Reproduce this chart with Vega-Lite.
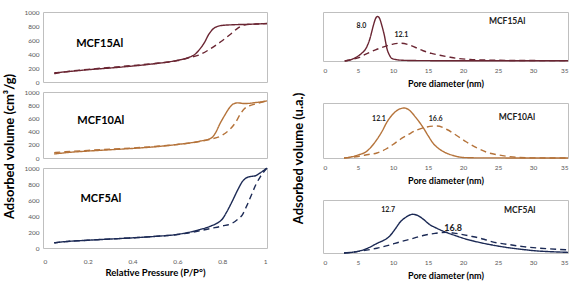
{
  "$schema": "https://vega.github.io/schema/vega-lite/v6.json",
  "padding": {"left": 3, "top": 8, "right": 0, "bottom": 0},
  "background": "white",
  "datasets": {
    "iso": [
      {"panel": "MCF15Al", "branch": "solid", "p": 0.05, "v": 130},
      {"panel": "MCF15Al", "branch": "solid", "p": 0.1, "v": 145},
      {"panel": "MCF15Al", "branch": "solid", "p": 0.2, "v": 175},
      {"panel": "MCF15Al", "branch": "solid", "p": 0.3, "v": 200},
      {"panel": "MCF15Al", "branch": "solid", "p": 0.4, "v": 228},
      {"panel": "MCF15Al", "branch": "solid", "p": 0.5, "v": 262},
      {"panel": "MCF15Al", "branch": "solid", "p": 0.6, "v": 310},
      {"panel": "MCF15Al", "branch": "solid", "p": 0.65, "v": 350},
      {"panel": "MCF15Al", "branch": "solid", "p": 0.68, "v": 400},
      {"panel": "MCF15Al", "branch": "solid", "p": 0.7, "v": 470},
      {"panel": "MCF15Al", "branch": "solid", "p": 0.72, "v": 560},
      {"panel": "MCF15Al", "branch": "solid", "p": 0.74, "v": 680},
      {"panel": "MCF15Al", "branch": "solid", "p": 0.76, "v": 760},
      {"panel": "MCF15Al", "branch": "solid", "p": 0.78, "v": 795},
      {"panel": "MCF15Al", "branch": "solid", "p": 0.8, "v": 808},
      {"panel": "MCF15Al", "branch": "solid", "p": 0.85, "v": 818},
      {"panel": "MCF15Al", "branch": "solid", "p": 0.9, "v": 823},
      {"panel": "MCF15Al", "branch": "solid", "p": 0.95, "v": 828},
      {"panel": "MCF15Al", "branch": "solid", "p": 1.0, "v": 835},
      {"panel": "MCF15Al", "branch": "dashed", "p": 0.05, "v": 120},
      {"panel": "MCF15Al", "branch": "dashed", "p": 0.1, "v": 145},
      {"panel": "MCF15Al", "branch": "dashed", "p": 0.2, "v": 180},
      {"panel": "MCF15Al", "branch": "dashed", "p": 0.3, "v": 208},
      {"panel": "MCF15Al", "branch": "dashed", "p": 0.4, "v": 235},
      {"panel": "MCF15Al", "branch": "dashed", "p": 0.5, "v": 265},
      {"panel": "MCF15Al", "branch": "dashed", "p": 0.6, "v": 305},
      {"panel": "MCF15Al", "branch": "dashed", "p": 0.65, "v": 345},
      {"panel": "MCF15Al", "branch": "dashed", "p": 0.7, "v": 390},
      {"panel": "MCF15Al", "branch": "dashed", "p": 0.75, "v": 480},
      {"panel": "MCF15Al", "branch": "dashed", "p": 0.8, "v": 590},
      {"panel": "MCF15Al", "branch": "dashed", "p": 0.84, "v": 690},
      {"panel": "MCF15Al", "branch": "dashed", "p": 0.87, "v": 770},
      {"panel": "MCF15Al", "branch": "dashed", "p": 0.9, "v": 815},
      {"panel": "MCF15Al", "branch": "dashed", "p": 0.95, "v": 828},
      {"panel": "MCF15Al", "branch": "dashed", "p": 1.0, "v": 835},
      {"panel": "MCF10Al", "branch": "solid", "p": 0.05, "v": 60},
      {"panel": "MCF10Al", "branch": "solid", "p": 0.1, "v": 80},
      {"panel": "MCF10Al", "branch": "solid", "p": 0.2, "v": 105},
      {"panel": "MCF10Al", "branch": "solid", "p": 0.3, "v": 125},
      {"panel": "MCF10Al", "branch": "solid", "p": 0.4, "v": 145},
      {"panel": "MCF10Al", "branch": "solid", "p": 0.5, "v": 170},
      {"panel": "MCF10Al", "branch": "solid", "p": 0.6, "v": 205},
      {"panel": "MCF10Al", "branch": "solid", "p": 0.7, "v": 255},
      {"panel": "MCF10Al", "branch": "solid", "p": 0.75, "v": 300},
      {"panel": "MCF10Al", "branch": "solid", "p": 0.77, "v": 380},
      {"panel": "MCF10Al", "branch": "solid", "p": 0.79, "v": 520},
      {"panel": "MCF10Al", "branch": "solid", "p": 0.81, "v": 640},
      {"panel": "MCF10Al", "branch": "solid", "p": 0.83, "v": 750},
      {"panel": "MCF10Al", "branch": "solid", "p": 0.85, "v": 820},
      {"panel": "MCF10Al", "branch": "solid", "p": 0.87, "v": 835},
      {"panel": "MCF10Al", "branch": "solid", "p": 0.9, "v": 825},
      {"panel": "MCF10Al", "branch": "solid", "p": 0.95, "v": 840},
      {"panel": "MCF10Al", "branch": "solid", "p": 1.0, "v": 865},
      {"panel": "MCF10Al", "branch": "dashed", "p": 0.05, "v": 80},
      {"panel": "MCF10Al", "branch": "dashed", "p": 0.1, "v": 95},
      {"panel": "MCF10Al", "branch": "dashed", "p": 0.2, "v": 115},
      {"panel": "MCF10Al", "branch": "dashed", "p": 0.3, "v": 135},
      {"panel": "MCF10Al", "branch": "dashed", "p": 0.4, "v": 152},
      {"panel": "MCF10Al", "branch": "dashed", "p": 0.5, "v": 175},
      {"panel": "MCF10Al", "branch": "dashed", "p": 0.6, "v": 205},
      {"panel": "MCF10Al", "branch": "dashed", "p": 0.7, "v": 250},
      {"panel": "MCF10Al", "branch": "dashed", "p": 0.75, "v": 285},
      {"panel": "MCF10Al", "branch": "dashed", "p": 0.8, "v": 345},
      {"panel": "MCF10Al", "branch": "dashed", "p": 0.83, "v": 420},
      {"panel": "MCF10Al", "branch": "dashed", "p": 0.86, "v": 540},
      {"panel": "MCF10Al", "branch": "dashed", "p": 0.88, "v": 660},
      {"panel": "MCF10Al", "branch": "dashed", "p": 0.9, "v": 750},
      {"panel": "MCF10Al", "branch": "dashed", "p": 0.93, "v": 800},
      {"panel": "MCF10Al", "branch": "dashed", "p": 0.96, "v": 830},
      {"panel": "MCF10Al", "branch": "dashed", "p": 1.0, "v": 865},
      {"panel": "MCF5Al", "branch": "solid", "p": 0.05, "v": 65},
      {"panel": "MCF5Al", "branch": "solid", "p": 0.1, "v": 80},
      {"panel": "MCF5Al", "branch": "solid", "p": 0.2, "v": 97},
      {"panel": "MCF5Al", "branch": "solid", "p": 0.3, "v": 112},
      {"panel": "MCF5Al", "branch": "solid", "p": 0.4, "v": 127},
      {"panel": "MCF5Al", "branch": "solid", "p": 0.5, "v": 145},
      {"panel": "MCF5Al", "branch": "solid", "p": 0.6, "v": 170},
      {"panel": "MCF5Al", "branch": "solid", "p": 0.7, "v": 230},
      {"panel": "MCF5Al", "branch": "solid", "p": 0.75, "v": 275},
      {"panel": "MCF5Al", "branch": "solid", "p": 0.78, "v": 315},
      {"panel": "MCF5Al", "branch": "solid", "p": 0.8, "v": 360},
      {"panel": "MCF5Al", "branch": "solid", "p": 0.82, "v": 450},
      {"panel": "MCF5Al", "branch": "solid", "p": 0.845, "v": 585},
      {"panel": "MCF5Al", "branch": "solid", "p": 0.87, "v": 730},
      {"panel": "MCF5Al", "branch": "solid", "p": 0.89, "v": 830},
      {"panel": "MCF5Al", "branch": "solid", "p": 0.91, "v": 880},
      {"panel": "MCF5Al", "branch": "solid", "p": 0.93, "v": 895},
      {"panel": "MCF5Al", "branch": "solid", "p": 0.95, "v": 905},
      {"panel": "MCF5Al", "branch": "solid", "p": 0.97, "v": 940},
      {"panel": "MCF5Al", "branch": "solid", "p": 1.0, "v": 1000},
      {"panel": "MCF5Al", "branch": "dashed", "p": 0.05, "v": 65},
      {"panel": "MCF5Al", "branch": "dashed", "p": 0.1, "v": 80},
      {"panel": "MCF5Al", "branch": "dashed", "p": 0.2, "v": 97},
      {"panel": "MCF5Al", "branch": "dashed", "p": 0.3, "v": 112},
      {"panel": "MCF5Al", "branch": "dashed", "p": 0.4, "v": 127},
      {"panel": "MCF5Al", "branch": "dashed", "p": 0.5, "v": 145},
      {"panel": "MCF5Al", "branch": "dashed", "p": 0.6, "v": 168},
      {"panel": "MCF5Al", "branch": "dashed", "p": 0.7, "v": 215},
      {"panel": "MCF5Al", "branch": "dashed", "p": 0.75, "v": 245},
      {"panel": "MCF5Al", "branch": "dashed", "p": 0.8, "v": 275},
      {"panel": "MCF5Al", "branch": "dashed", "p": 0.845, "v": 310},
      {"panel": "MCF5Al", "branch": "dashed", "p": 0.87, "v": 360},
      {"panel": "MCF5Al", "branch": "dashed", "p": 0.89, "v": 415},
      {"panel": "MCF5Al", "branch": "dashed", "p": 0.91, "v": 530},
      {"panel": "MCF5Al", "branch": "dashed", "p": 0.93, "v": 660},
      {"panel": "MCF5Al", "branch": "dashed", "p": 0.95, "v": 790},
      {"panel": "MCF5Al", "branch": "dashed", "p": 0.97, "v": 890},
      {"panel": "MCF5Al", "branch": "dashed", "p": 1.0, "v": 1000}
    ],
    "psd": [
      {"panel": "MCF15Al", "branch": "solid", "d": 3.1, "v": 0},
      {"panel": "MCF15Al", "branch": "solid", "d": 4, "v": 0.03},
      {"panel": "MCF15Al", "branch": "solid", "d": 4.8, "v": 0.09},
      {"panel": "MCF15Al", "branch": "solid", "d": 5.5, "v": 0.17},
      {"panel": "MCF15Al", "branch": "solid", "d": 6.2, "v": 0.3},
      {"panel": "MCF15Al", "branch": "solid", "d": 6.7, "v": 0.5},
      {"panel": "MCF15Al", "branch": "solid", "d": 7.2, "v": 0.8},
      {"panel": "MCF15Al", "branch": "solid", "d": 7.5, "v": 0.95},
      {"panel": "MCF15Al", "branch": "solid", "d": 7.8, "v": 1.0},
      {"panel": "MCF15Al", "branch": "solid", "d": 8.1, "v": 0.95},
      {"panel": "MCF15Al", "branch": "solid", "d": 8.4, "v": 0.8},
      {"panel": "MCF15Al", "branch": "solid", "d": 8.8, "v": 0.55},
      {"panel": "MCF15Al", "branch": "solid", "d": 9.1, "v": 0.3},
      {"panel": "MCF15Al", "branch": "solid", "d": 9.5, "v": 0.13},
      {"panel": "MCF15Al", "branch": "solid", "d": 9.8, "v": 0.06},
      {"panel": "MCF15Al", "branch": "solid", "d": 10.5, "v": 0.03},
      {"panel": "MCF15Al", "branch": "solid", "d": 11, "v": 0.02},
      {"panel": "MCF15Al", "branch": "solid", "d": 13, "v": 0.01},
      {"panel": "MCF15Al", "branch": "solid", "d": 20, "v": 0.005},
      {"panel": "MCF15Al", "branch": "solid", "d": 35, "v": 0.005},
      {"panel": "MCF15Al", "branch": "dashed", "d": 3.1, "v": 0},
      {"panel": "MCF15Al", "branch": "dashed", "d": 4, "v": 0.03},
      {"panel": "MCF15Al", "branch": "dashed", "d": 5, "v": 0.07},
      {"panel": "MCF15Al", "branch": "dashed", "d": 6.2, "v": 0.16},
      {"panel": "MCF15Al", "branch": "dashed", "d": 7.5, "v": 0.25},
      {"panel": "MCF15Al", "branch": "dashed", "d": 9.1, "v": 0.34},
      {"panel": "MCF15Al", "branch": "dashed", "d": 10, "v": 0.38},
      {"panel": "MCF15Al", "branch": "dashed", "d": 11.2, "v": 0.4},
      {"panel": "MCF15Al", "branch": "dashed", "d": 12.5, "v": 0.35},
      {"panel": "MCF15Al", "branch": "dashed", "d": 14.3, "v": 0.23},
      {"panel": "MCF15Al", "branch": "dashed", "d": 15.5, "v": 0.17},
      {"panel": "MCF15Al", "branch": "dashed", "d": 16.7, "v": 0.13},
      {"panel": "MCF15Al", "branch": "dashed", "d": 18, "v": 0.09},
      {"panel": "MCF15Al", "branch": "dashed", "d": 19.1, "v": 0.06},
      {"panel": "MCF15Al", "branch": "dashed", "d": 21, "v": 0.035},
      {"panel": "MCF15Al", "branch": "dashed", "d": 23.9, "v": 0.02},
      {"panel": "MCF15Al", "branch": "dashed", "d": 27, "v": 0.012},
      {"panel": "MCF15Al", "branch": "dashed", "d": 30, "v": 0.01},
      {"panel": "MCF15Al", "branch": "dashed", "d": 35, "v": 0.008},
      {"panel": "MCF10Al", "branch": "solid", "d": 3, "v": 0},
      {"panel": "MCF10Al", "branch": "solid", "d": 4, "v": 0.02},
      {"panel": "MCF10Al", "branch": "solid", "d": 5, "v": 0.06},
      {"panel": "MCF10Al", "branch": "solid", "d": 6.2, "v": 0.13},
      {"panel": "MCF10Al", "branch": "solid", "d": 7.7, "v": 0.37},
      {"panel": "MCF10Al", "branch": "solid", "d": 8.5, "v": 0.55},
      {"panel": "MCF10Al", "branch": "solid", "d": 9.1, "v": 0.71},
      {"panel": "MCF10Al", "branch": "solid", "d": 10, "v": 0.88},
      {"panel": "MCF10Al", "branch": "solid", "d": 10.8, "v": 0.97},
      {"panel": "MCF10Al", "branch": "solid", "d": 11.6, "v": 1.0},
      {"panel": "MCF10Al", "branch": "solid", "d": 12.3, "v": 0.96},
      {"panel": "MCF10Al", "branch": "solid", "d": 13.2, "v": 0.82},
      {"panel": "MCF10Al", "branch": "solid", "d": 14.3, "v": 0.61},
      {"panel": "MCF10Al", "branch": "solid", "d": 15, "v": 0.45},
      {"panel": "MCF10Al", "branch": "solid", "d": 15.7, "v": 0.3},
      {"panel": "MCF10Al", "branch": "solid", "d": 16.6, "v": 0.18},
      {"panel": "MCF10Al", "branch": "solid", "d": 17.6, "v": 0.1},
      {"panel": "MCF10Al", "branch": "solid", "d": 18.6, "v": 0.05},
      {"panel": "MCF10Al", "branch": "solid", "d": 20, "v": 0.01},
      {"panel": "MCF10Al", "branch": "solid", "d": 22, "v": 0.003},
      {"panel": "MCF10Al", "branch": "solid", "d": 35, "v": 0},
      {"panel": "MCF10Al", "branch": "dashed", "d": 3, "v": 0},
      {"panel": "MCF10Al", "branch": "dashed", "d": 5, "v": 0.03},
      {"panel": "MCF10Al", "branch": "dashed", "d": 6.5, "v": 0.07},
      {"panel": "MCF10Al", "branch": "dashed", "d": 7.7, "v": 0.1},
      {"panel": "MCF10Al", "branch": "dashed", "d": 9, "v": 0.18},
      {"panel": "MCF10Al", "branch": "dashed", "d": 10, "v": 0.27},
      {"panel": "MCF10Al", "branch": "dashed", "d": 11, "v": 0.37},
      {"panel": "MCF10Al", "branch": "dashed", "d": 12.2, "v": 0.47},
      {"panel": "MCF10Al", "branch": "dashed", "d": 13.4, "v": 0.56},
      {"panel": "MCF10Al", "branch": "dashed", "d": 14.8, "v": 0.62},
      {"panel": "MCF10Al", "branch": "dashed", "d": 16.3, "v": 0.64},
      {"panel": "MCF10Al", "branch": "dashed", "d": 17.7, "v": 0.57},
      {"panel": "MCF10Al", "branch": "dashed", "d": 19.2, "v": 0.44},
      {"panel": "MCF10Al", "branch": "dashed", "d": 20.5, "v": 0.32},
      {"panel": "MCF10Al", "branch": "dashed", "d": 22, "v": 0.2},
      {"panel": "MCF10Al", "branch": "dashed", "d": 23.5, "v": 0.11},
      {"panel": "MCF10Al", "branch": "dashed", "d": 25.1, "v": 0.06},
      {"panel": "MCF10Al", "branch": "dashed", "d": 26.5, "v": 0.03},
      {"panel": "MCF10Al", "branch": "dashed", "d": 28, "v": 0.01},
      {"panel": "MCF10Al", "branch": "dashed", "d": 30, "v": 0.003},
      {"panel": "MCF10Al", "branch": "dashed", "d": 35, "v": 0},
      {"panel": "MCF5Al", "branch": "solid", "d": 3, "v": 0},
      {"panel": "MCF5Al", "branch": "solid", "d": 4.5, "v": 0.02},
      {"panel": "MCF5Al", "branch": "solid", "d": 5.8, "v": 0.06},
      {"panel": "MCF5Al", "branch": "solid", "d": 7.7, "v": 0.18},
      {"panel": "MCF5Al", "branch": "solid", "d": 9.6, "v": 0.33},
      {"panel": "MCF5Al", "branch": "solid", "d": 10.3, "v": 0.45},
      {"panel": "MCF5Al", "branch": "solid", "d": 11, "v": 0.58},
      {"panel": "MCF5Al", "branch": "solid", "d": 11.9, "v": 0.68},
      {"panel": "MCF5Al", "branch": "solid", "d": 12.8, "v": 0.73},
      {"panel": "MCF5Al", "branch": "solid", "d": 13.5, "v": 0.71},
      {"panel": "MCF5Al", "branch": "solid", "d": 14.3, "v": 0.64},
      {"panel": "MCF5Al", "branch": "solid", "d": 15.2, "v": 0.54},
      {"panel": "MCF5Al", "branch": "solid", "d": 16.2, "v": 0.47},
      {"panel": "MCF5Al", "branch": "solid", "d": 17.6, "v": 0.39},
      {"panel": "MCF5Al", "branch": "solid", "d": 19.1, "v": 0.32},
      {"panel": "MCF5Al", "branch": "solid", "d": 20.5, "v": 0.26},
      {"panel": "MCF5Al", "branch": "solid", "d": 22, "v": 0.21},
      {"panel": "MCF5Al", "branch": "solid", "d": 24.2, "v": 0.15},
      {"panel": "MCF5Al", "branch": "solid", "d": 26.5, "v": 0.1},
      {"panel": "MCF5Al", "branch": "solid", "d": 28.6, "v": 0.065},
      {"panel": "MCF5Al", "branch": "solid", "d": 31, "v": 0.035},
      {"panel": "MCF5Al", "branch": "solid", "d": 33.4, "v": 0.02},
      {"panel": "MCF5Al", "branch": "solid", "d": 35, "v": 0.012},
      {"panel": "MCF5Al", "branch": "dashed", "d": 3, "v": 0},
      {"panel": "MCF5Al", "branch": "dashed", "d": 4.5, "v": 0.02},
      {"panel": "MCF5Al", "branch": "dashed", "d": 6, "v": 0.05},
      {"panel": "MCF5Al", "branch": "dashed", "d": 7.7, "v": 0.09},
      {"panel": "MCF5Al", "branch": "dashed", "d": 9.5, "v": 0.15},
      {"panel": "MCF5Al", "branch": "dashed", "d": 11, "v": 0.21},
      {"panel": "MCF5Al", "branch": "dashed", "d": 12.7, "v": 0.27},
      {"panel": "MCF5Al", "branch": "dashed", "d": 14.3, "v": 0.33},
      {"panel": "MCF5Al", "branch": "dashed", "d": 16, "v": 0.37},
      {"panel": "MCF5Al", "branch": "dashed", "d": 17.6, "v": 0.39},
      {"panel": "MCF5Al", "branch": "dashed", "d": 19, "v": 0.37},
      {"panel": "MCF5Al", "branch": "dashed", "d": 21, "v": 0.32},
      {"panel": "MCF5Al", "branch": "dashed", "d": 23, "v": 0.26},
      {"panel": "MCF5Al", "branch": "dashed", "d": 24.2, "v": 0.21},
      {"panel": "MCF5Al", "branch": "dashed", "d": 26.5, "v": 0.16},
      {"panel": "MCF5Al", "branch": "dashed", "d": 28.6, "v": 0.12},
      {"panel": "MCF5Al", "branch": "dashed", "d": 31, "v": 0.09},
      {"panel": "MCF5Al", "branch": "dashed", "d": 33.4, "v": 0.07},
      {"panel": "MCF5Al", "branch": "dashed", "d": 35, "v": 0.06}
    ],
    "isoNotes": [
      {"panel": "MCF15Al", "p": 0.253, "v": 546, "text": "MCF15Al"},
      {"panel": "MCF10Al", "p": 0.258, "v": 563, "text": "MCF10Al"},
      {"panel": "MCF5Al", "p": 0.258, "v": 615, "text": "MCF5Al"}
    ],
    "psdNotes": [
      {"panel": "MCF15Al", "role": "peak", "d": 5.5, "v": 0.79, "text": "8.0"},
      {"panel": "MCF15Al", "role": "peak", "d": 11.2, "v": 0.59, "text": "12.1"},
      {"panel": "MCF15Al", "role": "sample", "d": 26.3, "v": 0.89, "text": "MCF15Al"},
      {"panel": "MCF10Al", "role": "peak", "d": 8.0, "v": 0.78, "text": "12.1"},
      {"panel": "MCF10Al", "role": "peak", "d": 16.1, "v": 0.78, "text": "16.6"},
      {"panel": "MCF10Al", "role": "sample", "d": 27.7, "v": 0.83, "text": "MCF10Al"},
      {"panel": "MCF5Al", "role": "peak", "d": 9.3, "v": 0.81, "text": "12.7"},
      {"panel": "MCF5Al", "role": "peak", "d": 18.6, "v": 0.48, "text": "16.8"},
      {"panel": "MCF5Al", "role": "sample", "d": 28.1, "v": 0.82, "text": "MCF5Al"}
    ]
  },
  "hconcat": [
    {
      "vconcat": [
        {
          "width": 224, "height": 70,
          "layer": [
            {
              "data": {"name": "iso"},
              "transform": [{"filter": "datum.panel == 'MCF15Al'"}],
              "mark": {"type": "line", "color": "#6A2532", "strokeWidth": 1.4, "interpolate": "monotone"},
              "encoding": {
                "x": {"field": "p", "type": "quantitative", "scale": {"domain": [0, 1]}, "axis": null},
                "y": {"field": "v", "type": "quantitative", "scale": {"domain": [0, 1000]}, "axis": {"values": [0, 200, 400, 600, 800, 1000], "format": "d", "labelOverlap": false, "title": null}},
                "strokeDash": {"field": "branch", "type": "nominal", "scale": {"domain": ["solid", "dashed"], "range": [[1, 0], [6, 4]]}, "legend": null}
              }
            },
            {
              "data": {"name": "isoNotes"},
              "transform": [{"filter": "datum.panel == 'MCF15Al'"}],
              "mark": {"type": "text", "fontSize": 11, "fontWeight": "bold", "font": "Lato", "color": "#000"},
              "encoding": {
                "x": {"field": "p", "type": "quantitative", "axis": null},
                "y": {"field": "v", "type": "quantitative", "axis": {"values": [0, 200, 400, 600, 800, 1000], "format": "d", "labelOverlap": false, "title": null}},
                "text": {"field": "text"}
              }
            }
          ]
        },
        {
          "width": 224, "height": 66,
          "layer": [
            {
              "data": {"name": "iso"},
              "transform": [{"filter": "datum.panel == 'MCF10Al'"}],
              "mark": {"type": "line", "color": "#B5733A", "strokeWidth": 1.4, "interpolate": "monotone"},
              "encoding": {
                "x": {"field": "p", "type": "quantitative", "scale": {"domain": [0, 1]}, "axis": null},
                "y": {"field": "v", "type": "quantitative", "scale": {"domain": [0, 1000]}, "axis": {"values": [0, 200, 400, 600, 800, 1000], "format": "d", "labelOverlap": false, "title": "Adsorbed volume (cm³/g)", "titleY": 54}},
                "strokeDash": {"field": "branch", "type": "nominal", "scale": {"domain": ["solid", "dashed"], "range": [[1, 0], [6, 4]]}, "legend": null}
              }
            },
            {
              "data": {"name": "isoNotes"},
              "transform": [{"filter": "datum.panel == 'MCF10Al'"}],
              "mark": {"type": "text", "fontSize": 11, "fontWeight": "bold", "font": "Lato", "color": "#000"},
              "encoding": {
                "x": {"field": "p", "type": "quantitative", "axis": null},
                "y": {"field": "v", "type": "quantitative", "axis": {"values": [0, 200, 400, 600, 800, 1000], "format": "d", "labelOverlap": false, "title": "Adsorbed volume (cm³/g)", "titleY": 54}},
                "text": {"field": "text"}
              }
            }
          ]
        },
        {
          "width": 224, "height": 80,
          "layer": [
            {
              "data": {"name": "iso"},
              "transform": [{"filter": "datum.panel == 'MCF5Al'"}],
              "mark": {"type": "line", "color": "#1C2A55", "strokeWidth": 1.4, "interpolate": "monotone"},
              "encoding": {
                "x": {"field": "p", "type": "quantitative", "scale": {"domain": [0, 1]}, "axis": {"values": [0, 0.2, 0.4, 0.6, 0.8, 1], "format": "~g", "labelOverlap": false, "title": "Relative Pressure (P/P°)", "labelPadding": 10, "titlePadding": 3, "titleFontSize": 9.5}},
                "y": {"field": "v", "type": "quantitative", "scale": {"domain": [0, 1000]}, "axis": {"values": [0, 200, 400, 600, 800, 1000], "format": "d", "labelOverlap": false, "title": null}},
                "strokeDash": {"field": "branch", "type": "nominal", "scale": {"domain": ["solid", "dashed"], "range": [[1, 0], [6, 4]]}, "legend": null}
              }
            },
            {
              "data": {"name": "isoNotes"},
              "transform": [{"filter": "datum.panel == 'MCF5Al'"}],
              "mark": {"type": "text", "fontSize": 11, "fontWeight": "bold", "font": "Lato", "color": "#000"},
              "encoding": {
                "x": {"field": "p", "type": "quantitative", "axis": {"values": [0, 0.2, 0.4, 0.6, 0.8, 1], "format": "~g", "labelOverlap": false, "title": "Relative Pressure (P/P°)", "labelPadding": 10, "titlePadding": 3, "titleFontSize": 9.5}},
                "y": {"field": "v", "type": "quantitative", "axis": {"values": [0, 200, 400, 600, 800, 1000], "format": "d", "labelOverlap": false, "title": null}},
                "text": {"field": "text"}
              }
            }
          ]
        }
      ],
      "spacing": 10,
      "bounds": "flush"
    },
    {
      "vconcat": [
        {
          "width": 245, "height": 49,
          "layer": [
            {
              "data": {"name": "psd"},
              "transform": [{"filter": "datum.panel == 'MCF15Al'"}],
              "mark": {"type": "line", "color": "#6A2532", "strokeWidth": 1.4, "interpolate": "monotone"},
              "encoding": {
                "x": {"field": "d", "type": "quantitative", "scale": {"domain": [0, 35]}, "axis": {"values": [0, 5, 10, 15, 20, 25, 30, 35], "labelOverlap": false, "title": "Pore diameter (nm)"}},
                "y": {"field": "v", "type": "quantitative", "scale": {"domain": [0, 1.04]}, "axis": null},
                "strokeDash": {"field": "branch", "type": "nominal", "scale": {"domain": ["solid", "dashed"], "range": [[1, 0], [5, 4]]}, "legend": null}
              }
            },
            {
              "data": {"name": "psdNotes"},
              "transform": [{"filter": "datum.panel == 'MCF15Al'"}],
              "mark": {"type": "text", "font": "Lato", "fontWeight": "bold", "color": "#222"},
              "encoding": {
                "x": {"field": "d", "type": "quantitative", "axis": {"values": [0, 5, 10, 15, 20, 25, 30, 35], "labelOverlap": false, "title": "Pore diameter (nm)"}},
                "y": {"field": "v", "type": "quantitative", "axis": null},
                "text": {"field": "text"},
                "size": {"condition": {"test": "datum.role == 'sample'", "value": 8.5}, "value": 7}
              }
            }
          ]
        },
        {
          "width": 245, "height": 55,
          "layer": [
            {
              "data": {"name": "psd"},
              "transform": [{"filter": "datum.panel == 'MCF10Al'"}],
              "mark": {"type": "line", "color": "#B5733A", "strokeWidth": 1.4, "interpolate": "monotone"},
              "encoding": {
                "x": {"field": "d", "type": "quantitative", "scale": {"domain": [0, 35]}, "axis": {"values": [0, 5, 10, 15, 20, 25, 30, 35], "labelOverlap": false, "title": "Pore diameter (nm)"}},
                "y": {"field": "v", "type": "quantitative", "scale": {"domain": [0, 1.06]}, "axis": {"title": "Adsorbed volume (u.a.)", "labels": false, "titleY": 55, "titlePadding": 18}},
                "strokeDash": {"field": "branch", "type": "nominal", "scale": {"domain": ["solid", "dashed"], "range": [[1, 0], [5, 4]]}, "legend": null}
              }
            },
            {
              "data": {"name": "psdNotes"},
              "transform": [{"filter": "datum.panel == 'MCF10Al'"}],
              "mark": {"type": "text", "font": "Lato", "fontWeight": "bold", "color": "#222"},
              "encoding": {
                "x": {"field": "d", "type": "quantitative", "axis": {"values": [0, 5, 10, 15, 20, 25, 30, 35], "labelOverlap": false, "title": "Pore diameter (nm)"}},
                "y": {"field": "v", "type": "quantitative", "axis": {"title": "Adsorbed volume (u.a.)", "labels": false, "titleY": 55, "titlePadding": 18}},
                "text": {"field": "text"},
                "size": {"condition": {"test": "datum.role == 'sample'", "value": 8.5}, "value": 7}
              }
            }
          ]
        },
        {
          "width": 245, "height": 53,
          "layer": [
            {
              "data": {"name": "psd"},
              "transform": [{"filter": "datum.panel == 'MCF5Al'"}],
              "mark": {"type": "line", "color": "#1C2A55", "strokeWidth": 1.4, "interpolate": "monotone"},
              "encoding": {
                "x": {"field": "d", "type": "quantitative", "scale": {"domain": [0, 35]}, "axis": {"values": [0, 5, 10, 15, 20, 25, 30, 35], "labelOverlap": false, "title": "Pore diameter (nm)"}},
                "y": {"field": "v", "type": "quantitative", "scale": {"domain": [0, 1]}, "axis": null},
                "strokeDash": {"field": "branch", "type": "nominal", "scale": {"domain": ["solid", "dashed"], "range": [[1, 0], [5, 4]]}, "legend": null}
              }
            },
            {
              "data": {"name": "psdNotes"},
              "transform": [{"filter": "datum.panel == 'MCF5Al'"}],
              "mark": {"type": "text", "font": "Lato", "fontWeight": "bold", "color": "#222"},
              "encoding": {
                "x": {"field": "d", "type": "quantitative", "axis": {"values": [0, 5, 10, 15, 20, 25, 30, 35], "labelOverlap": false, "title": "Pore diameter (nm)"}},
                "y": {"field": "v", "type": "quantitative", "axis": null},
                "text": {"field": "text"},
                "size": {"condition": {"test": "datum.text == '16.8'", "value": 9}, "value": {"expr": "datum.role == 'sample' ? 8.5 : 7"}}
              }
            }
          ]
        }
      ],
      "spacing": 42,
      "bounds": "flush"
    }
  ],
  "spacing": 20,
  "config": {
    "view": {"stroke": "#BFBFBF", "strokeWidth": 1},
    "axis": {
      "grid": false, "domain": false, "ticks": false, "labelOverlap": false,
      "labelFont": "Lato", "labelFontSize": 6.5, "labelColor": "#595959", "labelPadding": 4,
      "titleFont": "Lato", "titleFontWeight": "bold", "titleColor": "#000", "titleFontSize": 9
    },
    "axisY": {"titleFontSize": 13, "titlePadding": 7},
    "axisX": {"labelPadding": 6, "titlePadding": 6}
  }
}
